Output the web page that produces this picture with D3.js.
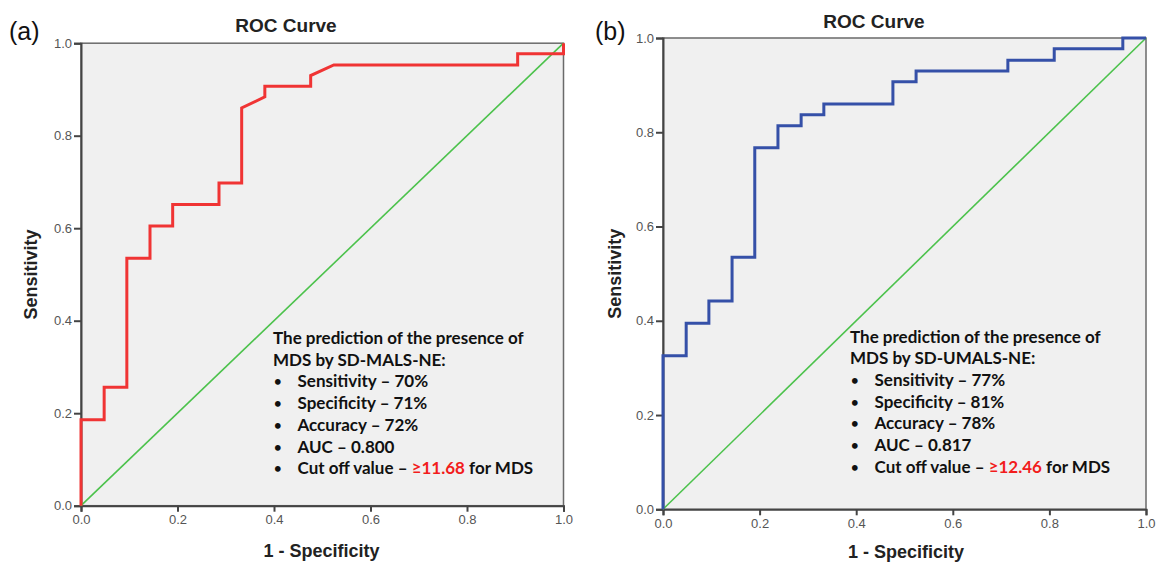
<!DOCTYPE html>
<html>
<head>
<meta charset="utf-8">
<script src="https://cdn.jsdelivr.net/npm/d3@7"></script>
<style>
  body { margin: 0; background: #fff; }
</style>
</head>
<body>
<script>
// ROC curve points (1 - specificity, sensitivity)
var fprA = [0, 0, 0.048, 0.048, 0.095, 0.095, 0.143, 0.143, 0.190, 0.190, 0.286, 0.286, 0.333, 0.333, 0.381, 0.381, 0.476, 0.476, 0.524, 0.905, 0.905, 1.0, 1.0];
var tprA = [0, 0.186, 0.186, 0.256, 0.256, 0.535, 0.535, 0.605, 0.605, 0.651, 0.651, 0.698, 0.698, 0.860, 0.884, 0.907, 0.907, 0.930, 0.953, 0.953, 0.977, 0.977, 1.0];

var fprB = [0, 0, 0.048, 0.048, 0.095, 0.095, 0.143, 0.143, 0.190, 0.190, 0.238, 0.238, 0.286, 0.286, 0.333, 0.333, 0.476, 0.476, 0.524, 0.524, 0.714, 0.714, 0.810, 0.810, 0.952, 0.952, 1.0];
var tprB = [0, 0.326, 0.326, 0.395, 0.395, 0.442, 0.442, 0.535, 0.535, 0.767, 0.767, 0.814, 0.814, 0.837, 0.837, 0.860, 0.860, 0.907, 0.907, 0.930, 0.930, 0.953, 0.953, 0.977, 0.977, 1.0, 1.0];

var refLine = [0, 1];
var tickVals = [0, 0.2, 0.4, 0.6, 0.8, 1.0];

var notesA = ["Sensitivity \u2013 70%", "Specificity \u2013 71%", "Accuracy \u2013 72%", "AUC \u2013 0.800"];
var notesB = ["Sensitivity \u2013 77%", "Specificity \u2013 81%", "Accuracy \u2013 78%", "AUC \u2013 0.817"];
var cutA = "\u226511.68";
var cutB = "\u226512.46";

var width = 1163, height = 562;

var svg = d3.select("body").append("svg")
    .attr("width", width)
    .attr("height", height);

var drawPanel = function(cfg){
    var x = d3.scaleLinear().domain([0, 1]).range([cfg.left, cfg.right]);
    var y = d3.scaleLinear().domain([0, 1]).range([cfg.bottom, cfg.top]);
    var g = svg.append("g");

    // plot background + frame
    g.append("rect")
        .attr("x", cfg.left).attr("y", cfg.top)
        .attr("width", cfg.right - cfg.left)
        .attr("height", cfg.bottom - cfg.top)
        .style("fill", "#f0f0f0")
        .style("stroke", "#6a6a6a")
        .style("stroke-width", 1.5);

    var xAxis = d3.axisBottom(x).tickValues(tickVals).tickSize(6).tickPadding(3).tickFormat(d3.format(".1f"));
    var yAxis = d3.axisLeft(y).tickValues(tickVals).tickSize(7).tickPadding(2).tickFormat(d3.format(".1f"));

    var gx = g.append("g").attr("transform", "translate(0," + cfg.bottom + ")").call(xAxis);
    var gy = g.append("g").attr("transform", "translate(" + cfg.left + ",0)").call(yAxis);
    [gx, gy].forEach(function(a){
        a.select(".domain").style("stroke", "#444").style("stroke-width", 2);
        a.selectAll(".tick line").style("stroke", "#444").style("stroke-width", 2);
        a.selectAll(".tick text")
            .style("font-family", "Liberation Sans, Arial, sans-serif")
            .style("font-size", "13px")
            .style("fill", "#555");
    });

    // diagonal reference
    g.append("line")
        .attr("x1", x(refLine[0])).attr("y1", y(refLine[0]))
        .attr("x2", x(refLine[1])).attr("y2", y(refLine[1]))
        .style("stroke", "#4cc24c")
        .style("stroke-width", 1.6);

    var pts = d3.zip(cfg.fpr, cfg.tpr);
    g.append("path")
        .datum(pts)
        .attr("d", d3.line().x(function(d){ return x(d[0]); }).y(function(d){ return y(d[1]); }))
        .style("fill", "none")
        .style("stroke", cfg.color)
        .style("stroke-width", 3)
        .style("stroke-linejoin", "miter");

    // titles
    g.append("text")
        .attr("x", cfg.titleX).attr("y", cfg.titleY)
        .attr("text-anchor", "middle")
        .style("font-family", "Liberation Sans, Arial, sans-serif")
        .style("font-weight", "bold")
        .style("font-size", "19px")
        .style("fill", "#222")
        .text("ROC Curve");

    g.append("text")
        .attr("x", cfg.tagX).attr("y", 40)
        .style("font-family", "Liberation Sans, Arial, sans-serif")
        .style("font-size", "25px")
        .style("fill", "#111")
        .text(cfg.tag);

    g.append("text")
        .attr("transform", "translate(" + cfg.ylabX + "," + ((cfg.top + cfg.bottom) / 2) + ") rotate(-90)")
        .attr("text-anchor", "middle")
        .style("font-family", "Liberation Sans, Arial, sans-serif")
        .style("font-weight", "bold")
        .style("font-size", "18px")
        .style("fill", "#222")
        .text("Sensitivity");

    g.append("text")
        .attr("x", cfg.xlabX).attr("y", cfg.xlabY)
        .attr("text-anchor", "middle")
        .style("font-family", "Liberation Sans, Arial, sans-serif")
        .style("font-weight", "bold")
        .style("font-size", "18px")
        .style("fill", "#222")
        .text("1 - Specificity");

    // annotation block
    var lh = 21.7;
    var note = g.append("g")
        .style("font-family", "Lato, 'Open Sans', sans-serif")
        .style("font-weight", "bold")
        .style("font-size", "17px")
        .style("fill", "#111");

    note.append("text").attr("x", cfg.noteX).attr("y", cfg.noteY).text("The prediction of the presence of");
    note.append("text").attr("x", cfg.noteX).attr("y", cfg.noteY + lh).text(cfg.method);

    var items = cfg.notes.concat(["cut"]);
    items.forEach(function(t, i){
        var yy = cfg.noteY + lh * (i + 2);
        note.append("text").attr("x", cfg.noteX + 1).attr("y", yy - 1)
            .style("font-size", "13px").text("\u2022");
        var tx = note.append("text").attr("x", cfg.noteX + 24.5).attr("y", yy);
        if (t == "cut"){
            tx.append("tspan").text("Cut off value \u2013 ");
            tx.append("tspan").style("fill", "#f21c1c").text(cfg.cut);
            tx.append("tspan").text(" for MDS");
        } else {
            tx.text(t);
        }
    });
};

drawPanel({
    left: 81, right: 563.5, top: 43.2, bottom: 505.7,
    fpr: fprA, tpr: tprA, color: "#f03434",
    titleX: 286, titleY: 32, tag: "(a)", tagX: 9, ylabX: 37, xlabX: 321.5, xlabY: 556.5,
    noteX: 273, noteY: 344, method: "MDS by SD-MALS-NE:", notes: notesA, cut: cutA
});

drawPanel({
    left: 663, right: 1146, top: 38, bottom: 509.3,
    fpr: fprB, tpr: tprB, color: "#3550a8",
    titleX: 874, titleY: 28, tag: "(b)", tagX: 595, ylabX: 621, xlabX: 906, xlabY: 558,
    noteX: 850, noteY: 342.5, method: "MDS by SD-UMALS-NE:", notes: notesB, cut: cutB
});
</script>
</body>
</html>
